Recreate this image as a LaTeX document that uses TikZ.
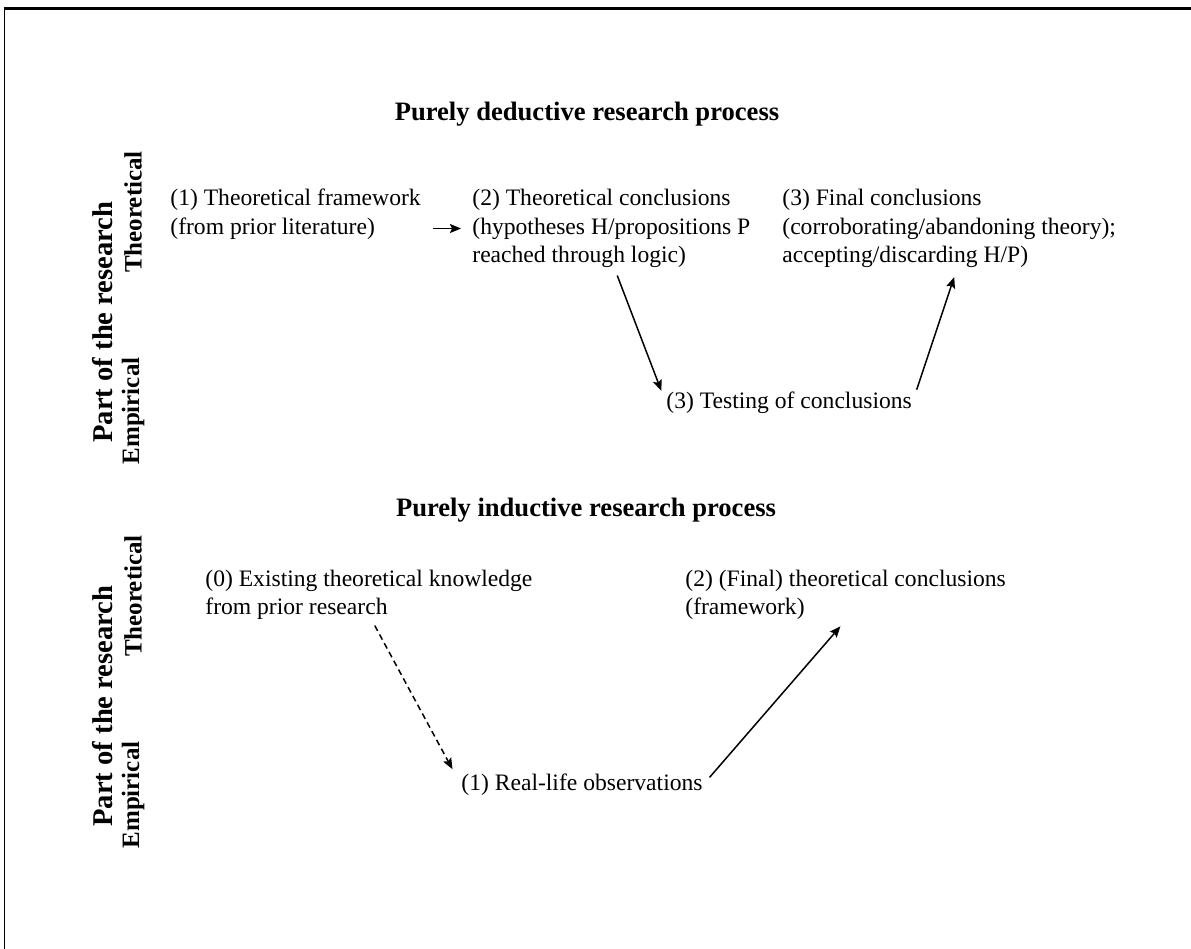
\documentclass[tikz,border=0pt]{standalone}
\usepackage{fontspec}
\setmainfont{Liberation Serif}
\usetikzlibrary{arrows.meta, positioning}

\begin{document}
\begin{tikzpicture}[x=0.5pt, y=-0.5pt,
      txt/.style={font=\fontsize{11.8}{14.2}\selectfont, align=left, anchor=west, inner sep=0pt},
      ttl/.style={font=\fontsize{13.3}{16}\selectfont\bfseries, inner sep=0pt},
      part/.style={font=\fontsize{14.3}{16}\selectfont\bfseries, rotate=90, inner sep=0pt},
      side/.style={font=\fontsize{12.5}{15}\selectfont\bfseries, rotate=90, inner sep=0pt},
      arr/.style={-{Stealth[length=5.5pt, width=4.5pt, inset=1pt]}, line width=0.75pt},
      darr/.style={arr, dash pattern=on 3pt off 2pt}]

    \useasboundingbox (0,0) rectangle (1191,949);

    % frame (cut at right and bottom)
    \draw[line width=1.5pt] (3.5,8.5) -- (1191,8.5);
    \draw[line width=0.6pt] (4.5,8.5) -- (4.5,949);

    % ============================================
    % Purely deductive research process
    % ============================================
    \node[ttl] (ded) at (587,114) {Purely deductive research process};

    \node[part] (part1) at (103,322) {Part of the research};
    \node[side] (theo1) at (133,212) {Theoretical};
    \node[side] (emp1) at (133,411) {Empirical};

    \node[txt] (frame) at (170,214) {(1) Theoretical framework\\(from prior literature)};
    \node[txt] (theocon) at (472,228.5) {(2) Theoretical conclusions\\(hypotheses H/propositions P\\reached through logic)};
    \node[txt] (final) at (782,228.5) {(3) Final conclusions\\(corroborating/abandoning theory);\\accepting/discarding H/P)};
    \node[txt] (test) at (666,403) {(3) Testing of conclusions};

    \draw[arr, shorten <=6pt, shorten >=5.5pt] (frame.east |- theocon.west) -- (theocon.west);
    \draw[arr, shorten <=4pt, shorten >=6.5pt] ([xshift=1.5pt]theocon.south) -- (test.west);
    \draw[arr, shorten <=7pt] (test.east) -- ([xshift=2.5pt, yshift=-4.5pt]final.south);

    % ============================================
    % Purely inductive research process
    % ============================================
    \node[ttl] (ind) at (586,510) {Purely inductive research process};

    \node[part] (part2) at (103,706) {Part of the research};
    \node[side] (theo2) at (133,596) {Theoretical};
    \node[side] (emp2) at (133,795) {Empirical};

    \node[txt] (exist) at (205,595) {(0) Existing theoretical knowledge\\from prior research};
    \node[txt] (fincon) at (685,595) {(2) (Final) theoretical conclusions\\(framework)};
    \node[txt] (obs) at (461,785) {(1) Real-life observations};

    \draw[darr, shorten <=3pt, shorten >=9pt] ([xshift=1.5pt]exist.south) -- (obs.west);
    \draw[arr, shorten <=5pt, shorten >=4pt] (obs.east) -- (fincon.south);

\end{tikzpicture}
\end{document}
